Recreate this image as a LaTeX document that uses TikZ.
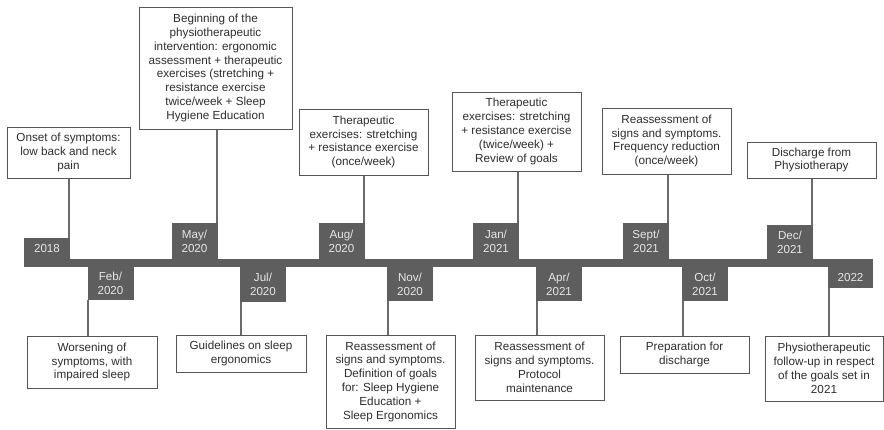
\documentclass[tikz,border=0pt]{standalone}
\usepackage{fontspec}
\setmainfont{Liberation Sans}
\definecolor{dg}{HTML}{5E5E5E}
\definecolor{cn}{HTML}{6A6A6A}
\definecolor{bd}{HTML}{555555}
\definecolor{tx}{HTML}{2E2E2E}
\definecolor{lt}{HTML}{E6E6E6}
\tikzset{
  tbox/.style={draw=bd, line width=1pt, fill=white, align=center, inner sep=0pt, text=tx,
    font=\fontsize{11.7}{13.8}\selectfont},
  dbox/.style={fill=dg, align=center, inner sep=0pt, text=lt, minimum width=46pt,
    font=\fontsize{11.6}{14.3}\selectfont},
  conn/.style={draw=cn, line width=2pt}
}
\begin{document}
\begin{tikzpicture}[x=1pt,y=-1pt]
\useasboundingbox (0,0) rectangle (884,429);
% timeline bar
\node[fill=dg, minimum width=849pt, minimum height=8pt, inner sep=0pt, anchor=north west] (bar) at (24,259) {};
% date boxes above
\node[dbox, minimum height=21pt] (d2018) at (47,248.5) {2018};
\node[dbox, minimum height=36pt] (dmay) at (194.5,241) {May/\\2020};
\node[dbox, minimum height=36pt] (daug) at (341.5,241) {Aug/\\2020};
\node[dbox, minimum height=36pt] (djan) at (496,241) {Jan/\\2021};
\node[dbox, minimum height=36pt] (dsep) at (646,241) {Sept/\\2021};
\node[dbox, minimum height=34pt] (ddec) at (790,242) {Dec/\\2021};
% date boxes below
\node[dbox, minimum height=33pt] (dfeb) at (110.5,283.5) {Feb/\\2020};
\node[dbox, minimum height=35pt] (djul) at (263,284.5) {Jul/\\2020};
\node[dbox, minimum height=34pt] (dnov) at (410,284) {Nov/\\2020};
\node[dbox, minimum height=34pt] (dapr) at (559,284) {Apr/\\2021};
\node[dbox, minimum height=34pt] (doct) at (705,284) {Oct/\\2021};
\node[dbox, minimum height=21pt, minimum width=45pt] (d2022) at (850.5,277.5) {2022};
% upper text boxes
\node[tbox, minimum width=123pt, minimum height=51pt] (onset) at (68.5,152.5)
  {Onset of symptoms:\\low back and neck\\pain};
\node[tbox, minimum width=153pt, minimum height=122pt] (begin) at (215.5,68)
  {Beginning of the\\physiotherapeutic\\intervention: ergonomic\\assessment + therapeutic\\exercises (stretching +\\resistance exercise\\twice/week + Sleep\\Hygiene Education};
\node[tbox, minimum width=129pt, minimum height=66pt] (ther1) at (363.5,142)
  {Therapeutic\\exercises: stretching\\+ resistance exercise\\(once/week)};
\node[tbox, minimum width=129pt, minimum height=79pt] (ther2) at (516.5,131.5)
  {Therapeutic\\exercises: stretching\\+ resistance exercise\\(twice/week) +\\Review of goals};
\node[tbox, minimum width=129pt, minimum height=66pt] (reass3) at (666.5,141)
  {Reassessment of\\signs and symptoms.\\Frequency reduction\\(once/week)};
\node[tbox, minimum width=129pt, minimum height=36pt] (disch) at (811.5,160)
  {Discharge from\\Physiotherapy};
% lower text boxes
\node[tbox, minimum width=130pt, minimum height=52pt] (worse) at (92,362)
  {Worsening of\\symptoms, with\\impaired sleep};
\node[tbox, minimum width=130pt, minimum height=37pt] (guide) at (241,353.5)
  {Guidelines on sleep\\ergonomics};
\node[tbox, minimum width=129pt, minimum height=93pt] (reass1) at (390.5,381.5)
  {Reassessment of\\signs and symptoms.\\Definition of goals\\for: Sleep Hygiene\\Education +\\Sleep Ergonomics};
\node[tbox, minimum width=129pt, minimum height=65pt] (reass2) at (539.5,367.5)
  {Reassessment of\\signs and symptoms.\\Protocol\\maintenance};
\node[tbox, minimum width=129pt, minimum height=37pt] (prep) at (684.5,354.5)
  {Preparation for\\discharge};
\node[tbox, minimum width=118pt, minimum height=65pt] (follow) at (824,368.5)
  {Physiotherapeutic\\follow-up in respect\\of the goals set in\\2021};
% connectors up
\draw[conn] ([xshift=-1pt]d2018.north east |- onset.south) -- ([xshift=-1pt]d2018.north east);
\draw[conn] ([xshift=-1pt]dmay.north east |- begin.south) -- ([xshift=-1pt]dmay.north east);
\draw[conn] ([xshift=-1pt]daug.north east |- ther1.south) -- ([xshift=-1pt]daug.north east);
\draw[conn] ([xshift=-1pt]djan.north east |- ther2.south) -- ([xshift=-1pt]djan.north east);
\draw[conn] ([xshift=-1pt]dsep.north east |- reass3.south) -- ([xshift=-1pt]dsep.north east);
\draw[conn] ([xshift=-1pt]ddec.north east |- disch.south) -- ([xshift=-1pt]ddec.north east);
% connectors down
\draw[conn] ([xshift=1pt]dfeb.south west) -- ([xshift=1pt]dfeb.south west |- worse.north);
\draw[conn] ([xshift=1pt]djul.south west) -- ([xshift=1pt]djul.south west |- guide.north);
\draw[conn] ([xshift=1pt]dnov.south west) -- ([xshift=1pt]dnov.south west |- reass1.north);
\draw[conn] ([xshift=1pt]dapr.south west) -- ([xshift=1pt]dapr.south west |- reass2.north);
\draw[conn] ([xshift=1pt]doct.south west) -- ([xshift=1pt]doct.south west |- prep.north);
\draw[conn] ([xshift=1pt]d2022.south west) -- ([xshift=1pt]d2022.south west |- follow.north);
\end{tikzpicture}
\end{document}
